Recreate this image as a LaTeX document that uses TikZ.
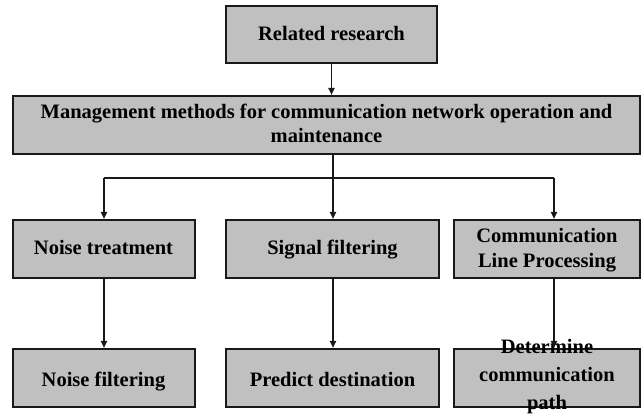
\documentclass[tikz,border=0pt]{standalone}
\usepackage{fontspec}
\setmainfont{Liberation Serif}
\usetikzlibrary{arrows.meta}
\definecolor{boxgray}{RGB}{192,192,192}
\definecolor{edge}{RGB}{25,25,25}
\newcommand\tstr{\rule[-4.5pt]{0pt}{20.5pt}}
\newcommand\bstr{\rule[-4.5pt]{0pt}{26pt}}
\begin{document}
\begin{tikzpicture}[x=1pt,y=-1pt,
  box/.style={draw=edge,fill=boxgray,line width=2pt,rectangle,inner sep=0pt,
    minimum height=58pt,align=center,font=\fontsize{20.5}{24}\selectfont\bfseries},
  lbl/.style={inner sep=0pt,align=center,font=\fontsize{20.5}{28}\selectfont\bfseries},
  arr/.style={draw=edge,line width=1.8pt,-{Triangle[length=7pt,width=6pt]}},
  ln/.style={draw=edge,line width=1.8pt}]
\useasboundingbox (0,0) rectangle (641,414);
\node[box,minimum width=211pt,minimum height=57pt] (rel) at (331.5,34.5) {\tstr Related research};
\node[box,minimum width=627pt] (mgmt) at (326.5,125) {\tstr Management methods for communication network operation and\\maintenance\tstr};
\node[box,minimum width=182pt] (nt) at (103.5,249) {\tstr Noise treatment};
\node[box,minimum width=213pt] (sf) at (332.5,249) {\tstr Signal filtering};
\node[box,minimum width=186pt,font=\fontsize{20.5}{25}\selectfont\bfseries] (clp) at (547,249) {\tstr Communication\\Line Processing\tstr};
\node[box,minimum width=182pt] (nf) at (103.5,378) {\bstr Noise filtering};
\node[box,minimum width=213pt] (pd) at (332.5,378) {\bstr Predict destination};
\node[box,minimum width=186pt] (dcp) at (547,378) {};
\node[lbl] (dcptext) at (547,376) {\strut Determine\\communication\\path\strut};
% connectors
\draw[arr] (rel.south) -- (rel.south |- mgmt.north);
\coordinate (split) at (333,178);
\coordinate (lsplit) at (104,178);
\coordinate (rsplit) at (554,178);
\draw[ln] (split |- mgmt.south) -- (split);
\draw[ln] (lsplit) -- (rsplit);
\draw[arr] (split) -- (split |- sf.north);
\draw[arr] (lsplit) -- (lsplit |- nt.north);
\draw[arr] (rsplit) -- (rsplit |- clp.north);
\draw[arr] (lsplit |- nt.south) -- (lsplit |- nf.north);
\draw[arr] (split |- sf.south) -- (split |- pd.north);
\draw[arr] (rsplit |- clp.south) -- (rsplit |- dcp.north);
\end{tikzpicture}
\end{document}
